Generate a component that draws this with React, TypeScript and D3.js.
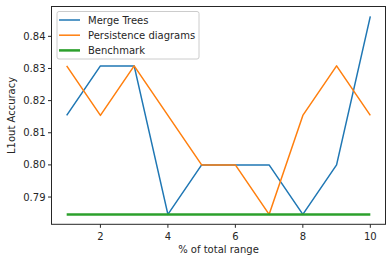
import React from 'react';
import * as d3 from 'd3';

const xs = [1, 2, 3, 4, 5, 6, 7, 8, 9, 10];
const mergeTrees = [0.8154, 0.8308, 0.8308, 0.7846, 0.8, 0.8, 0.8, 0.7846, 0.8, 0.8462];
const persistence = [0.8308, 0.8154, 0.8308, 0.8154, 0.8, 0.8, 0.7846, 0.8154, 0.8308, 0.8154];
const benchmark = [0.7846, 0.7846, 0.7846, 0.7846, 0.7846, 0.7846, 0.7846, 0.7846, 0.7846, 0.7846];
const xTicks = [2, 4, 6, 8, 10];
const yTicks = [0.79, 0.8, 0.81, 0.82, 0.83, 0.84];

const series = [
  { name: 'Merge Trees', values: mergeTrees, color: '#1f77b4', width: 1.5 },
  { name: 'Persistence diagrams', values: persistence, color: '#ff7f0e', width: 1.5 },
  { name: 'Benchmark', values: benchmark, color: '#2ca02c', width: 2.5 },
];

const W = 392;
const H = 262;
const left = 51.5, right = 385.5, top = 6.5, bottom = 224.3;
const font = 'DejaVu Sans, sans-serif';
const ink = '#262626';

export default function App() {
  const x = d3.scaleLinear().domain([0.55, 10.45]).range([left, right]);
  const all = [...mergeTrees, ...persistence, ...benchmark];
  const lo = d3.min(all)!, hi = d3.max(all)!;
  const pad = (hi - lo) * 0.05;
  const y = d3.scaleLinear().domain([lo - pad, hi + pad]).range([bottom, top]);
  const line = d3.line<number>().x((_, i) => x(xs[i])).y((d) => y(d));

  return (
    <svg width={W} height={H} style={{ position: 'absolute', left: 0, top: 0 }} fontFamily={font}>
      <rect width={W} height={H} fill="#fff" />
      {series.map((s) => (
        <path key={s.name} d={line(s.values)!} fill="none" stroke={s.color} strokeWidth={s.width} strokeLinejoin="round" />
      ))}
      <rect x={left} y={top} width={right - left} height={bottom - top} fill="none" stroke={ink} strokeWidth={1} />
      {xTicks.map((t) => (
        <g key={t} transform={`translate(${x(t)},${bottom})`}>
          <line y2={3.5} stroke={ink} />
          <text y={16} textAnchor="middle" fontSize={10} fill={ink}>{t}</text>
        </g>
      ))}
      {yTicks.map((t) => (
        <g key={t} transform={`translate(${left},${y(t)})`}>
          <line x2={-3.5} stroke={ink} />
          <text x={-6} dy="0.35em" textAnchor="end" fontSize={10} fill={ink}>{t.toFixed(2)}</text>
        </g>
      ))}
      <text x={(left + right) / 2} y={253} textAnchor="middle" fontSize={10} fill={ink}>% of total range</text>
      <text transform={`translate(15,${(top + bottom) / 2}) rotate(-90)`} textAnchor="middle" fontSize={10} fill={ink}>L1out Accuracy</text>
      <g>
        <rect x={57} y={11.5} width={142} height={47.5} rx={2} fill="#fff" fillOpacity={0.8} stroke="#ccc" />
        {series.map((s, i) => (
          <g key={s.name} transform={`translate(59,${20 + i * 15.2})`}>
            <line x1={0} x2={21} stroke={s.color} strokeWidth={s.width} />
            <text x={29} dy="0.35em" fontSize={10} fill={ink}>{s.name}</text>
          </g>
        ))}
      </g>
    </svg>
  );
}
